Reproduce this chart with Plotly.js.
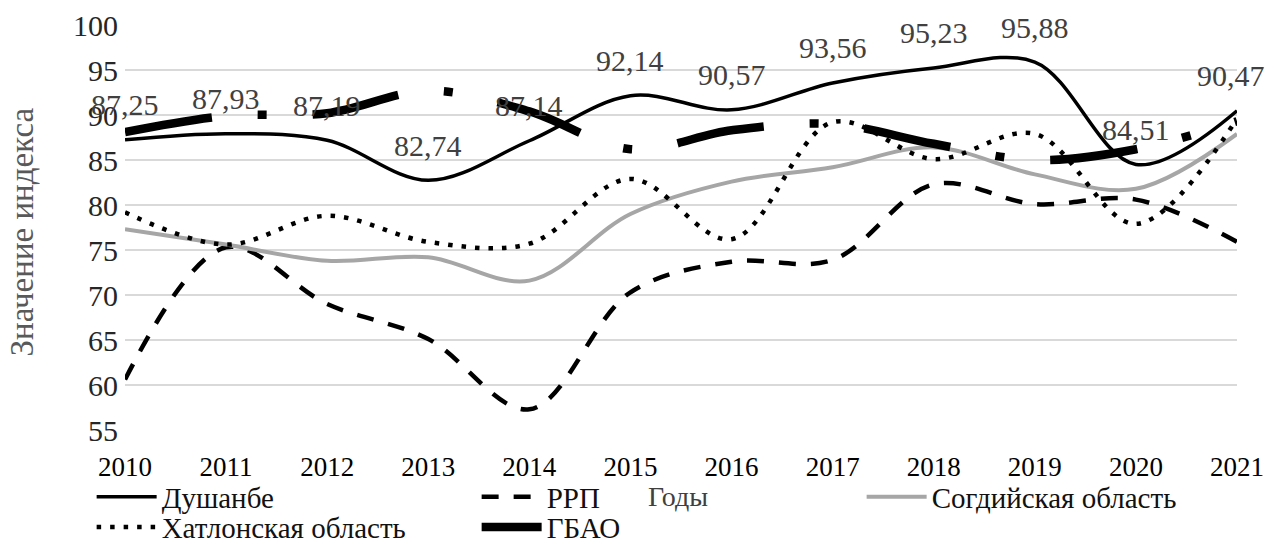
<!DOCTYPE html>
<html>
<head>
<meta charset="utf-8">
<script src="https://cdn.plot.ly/plotly-3.0.1.min.js"></script>
<style>html,body{margin:0;padding:0;background:#fff;}#chart{width:1268px;height:545px;}</style>
</head>
<body>
<div id="chart"></div>
<script>
const years = [2010, 2011, 2012, 2013, 2014, 2015, 2016, 2017, 2018, 2019, 2020, 2021];
const dushanbe = [87.25, 87.93, 87.19, 82.74, 87.14, 92.14, 90.57, 93.56, 95.23, 95.88, 84.51, 90.47];
const rrp = [60.6, 75.3, 69.0, 65.1, 57.3, 70.3, 73.7, 73.9, 82.3, 80.1, 80.6, 75.9];
const sogd = [77.3, 75.6, 73.8, 74.2, 71.6, 79.0, 82.6, 84.2, 86.4, 83.4, 81.8, 87.9];
const khatlon = [79.2, 75.6, 78.8, 75.9, 75.7, 82.9, 76.2, 89.2, 85.1, 87.9, 77.9, 89.6];
const gbao = [88.1, 89.9, 90.2, 92.7, 90.4, 86.2, 88.3, 89.0, 86.8, 85.0, 86.2, 89.3];
const yTicks = [55, 60, 65, 70, 75, 80, 85, 90, 95, 100];
const names = ["Душанбе", "РРП", "Согдийская область", "Хатлонская область", "ГБАО"];
const xTitle = "Годы";
const yTitle = "Значение индекса";

const serif = "Liberation Serif, Times New Roman, serif";
const fmt = v => v.toFixed(2).replace('.', ',');

const traces = [
  {x: years, y: dushanbe, name: names[0], legend: 'legend', mode: 'lines', line: {color: '#000', width: 3.5, shape: 'spline', smoothing: 1}},
  {x: years, y: rrp, name: names[1], legend: 'legend', mode: 'lines', line: {color: '#000', width: 4.5, shape: 'spline', smoothing: 1, dash: '17px,15px'}},
  {x: years, y: sogd, name: names[2], legend: 'legend', mode: 'lines', line: {color: '#a6a6a6', width: 4, shape: 'spline', smoothing: 1}},
  {x: years, y: khatlon, name: names[3], legend: 'legend2', mode: 'lines', line: {color: '#000', width: 4.5, shape: 'spline', smoothing: 1, dash: '4.5px,9px'}},
  {x: years, y: gbao, name: names[4], legend: 'legend2', mode: 'lines', line: {color: '#000', width: 8.5, shape: 'spline', smoothing: 1, dash: '88px,46px,9px,46px'}}
];

const lastIdx = years.length - 1;
const annotations = years.map((yr, i) => ({
  x: yr, y: dushanbe[i], xref: 'x', yref: 'y', text: fmt(dushanbe[i]),
  showarrow: false, yshift: 35, xshift: i === lastIdx ? -6 : 0,
  font: {family: serif, size: 30, color: '#404040'}
}));
annotations.push({
  text: yTitle, xref: 'paper', yref: 'paper', x: -0.093, y: 0.489, xanchor: 'center', yanchor: 'middle', textangle: -90,
  showarrow: false, font: {family: serif, size: 33, color: '#595959'}
});
annotations.push({
  text: xTitle, xref: 'paper', yref: 'paper', x: 0.497, y: -0.165, yanchor: 'middle', xanchor: 'center',
  showarrow: false, font: {family: serif, size: 28, color: '#404040'}
});

function legendCfg(y) {
  return {
    orientation: 'h', xanchor: 'left', yanchor: 'middle', x: -0.03, y: y,
    entrywidth: 310, entrywidthmode: 'pixels', itemwidth: 60,
    font: {family: serif, size: 29, color: '#111'}, tracegroupgap: 0,
    bgcolor: 'rgba(0,0,0,0)'
  };
}

const layout = {
  width: 1268, height: 545,
  font: {family: serif, color: '#1a1a1a'},
  margin: {l: 125, r: 31, t: 25, b: 115, autoexpand: false},
  paper_bgcolor: '#fff', plot_bgcolor: '#fff',
  showlegend: true,
  xaxis: {
    range: [2010, 2021], tickvals: years, ticktext: years.map(String),
    showgrid: false, zeroline: false, showline: false, ticks: '', ticklabelstandoff: 18,
    tickfont: {family: serif, size: 27, color: '#000'}
  },
  yaxis: {
    range: [55, 100], tickvals: yTicks, showgrid: true, gridcolor: '#d9d9d9', gridwidth: 2,
    zeroline: false, showline: false, ticks: '', ticklabelstandoff: 6,
    tickfont: {family: serif, size: 30, color: '#262626'}
  },
  legend: legendCfg(-0.165),
  legend2: legendCfg(-0.24),
  annotations: annotations
};

Plotly.newPlot('chart', traces, layout, {displayModeBar: false, staticPlot: true});
</script>
</body>
</html>
